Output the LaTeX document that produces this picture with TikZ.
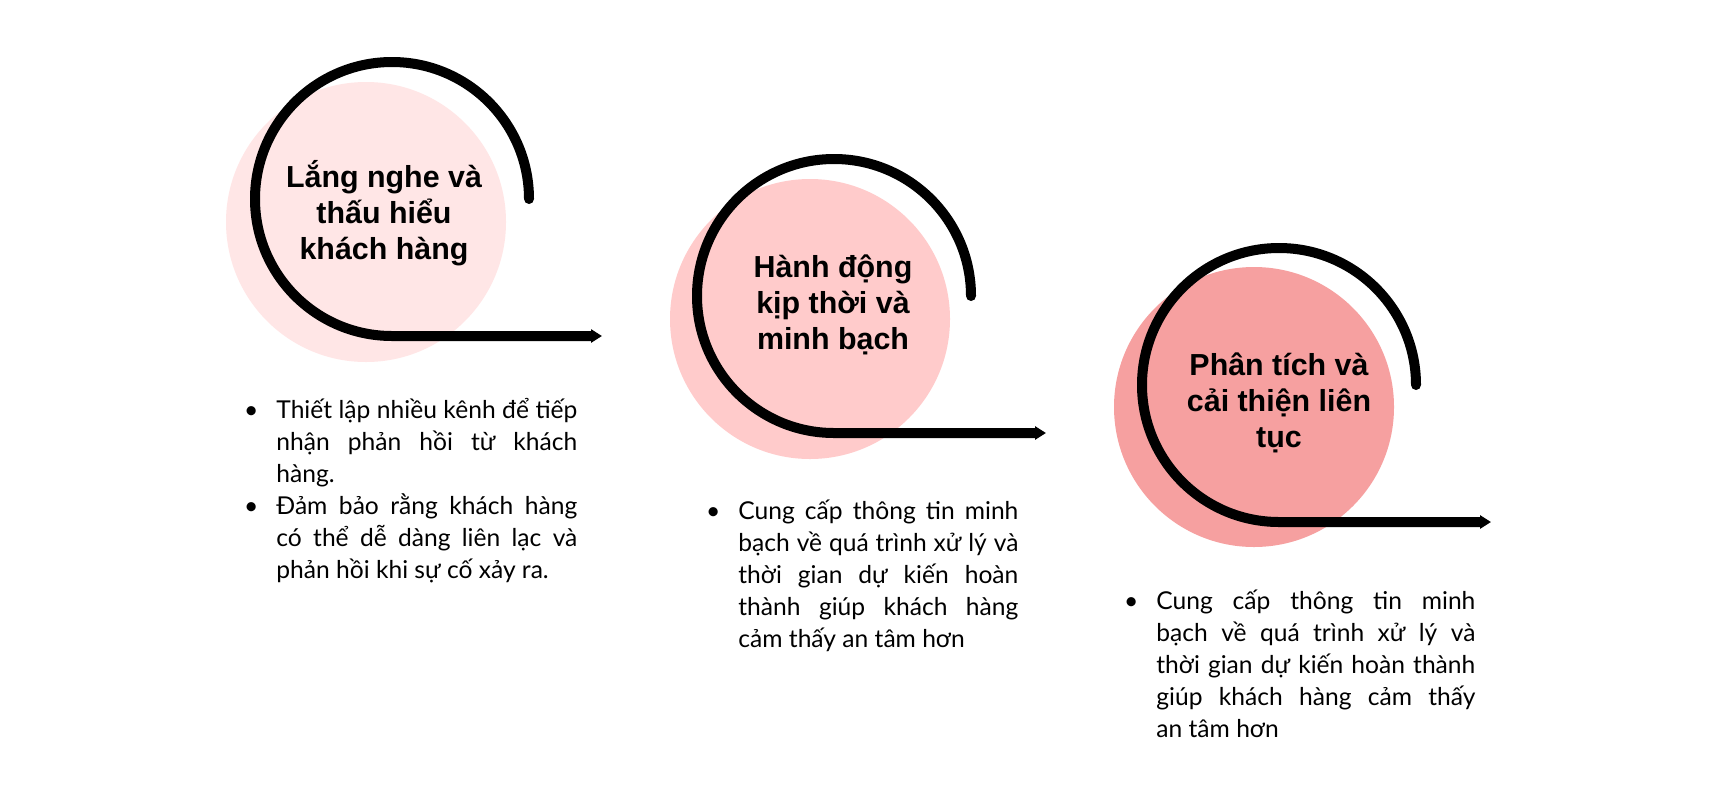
\documentclass[tikz,border=0pt]{standalone}
\usepackage{fontspec}
\setmainfont{Lato}
\newfontfamily\headfont{Liberation Sans}
\usetikzlibrary{arrows.meta}

\definecolor{pinkA}{HTML}{FFE6E6}
\definecolor{pinkB}{HTML}{FFCBCB}
\definecolor{pinkC}{HTML}{F6A0A0}

\begin{document}
\begin{tikzpicture}[x=0.5pt,y=-0.5pt]

        \tikzstyle{disc} = [circle, minimum size=140pt, inner sep=0];
        \tikzstyle{arrow} = [line width=5pt, line cap=round, -{Triangle[width=6.5pt,length=5.5pt]}];
        \tikzstyle{title} = [anchor=base, align=center, inner sep=0, font=\headfont\bfseries\fontsize{15.2pt}{18pt}\selectfont];
        \tikzstyle{body} = [anchor=base west, align=justify, inner sep=0, font=\fontsize{12.3pt}{16pt}\selectfont];

        \useasboundingbox[fill=white] (0,0) rectangle (1718,804);

        \node[disc, fill=pinkA] (C1) at (366,222) {};
        \node[disc, fill=pinkB] (C2) at (810,319) {};
        \node[disc, fill=pinkC] (C3) at (1254,407) {};

        % arcs with their arrows
        \coordinate (S1) at (529,199);
        \coordinate (E1) at (602,336);
        \draw[arrow] (S1) arc[start angle=0, end angle=270, radius=68.5pt] -- (E1);

        \coordinate (S2) at (971,296);
        \coordinate (E2) at (1046,433);
        \draw[arrow] (S2) arc[start angle=0, end angle=270, radius=68.5pt] -- (E2);

        \coordinate (S3) at (1416,385);
        \coordinate (E3) at (1491,522);
        \draw[arrow] (S3) arc[start angle=0, end angle=270, radius=68.5pt] -- (E3);

        % titles, placed by the baseline of their last line
        \node[title] (T1) at (384,259) {Lắng nghe và\\thấu hiểu\\khách hàng};
        \node[title] (T2) at (833,349) {Hành động\\kịp thời và\\minh bạch};
        \node[title] (T3) at (1279,447) {Phân tích và\\cải thiện liên\\tục};

        \node[body, text width=150.5pt] (B1) at (276,418) {%
            \noindent\llap{\textbullet\hspace{9pt}}Thiết lập nhiều kênh để tiếp\linebreak nhận phản hồi từ khách\linebreak hàng.\par
            \noindent\llap{\textbullet\hspace{9pt}}Đảm bảo rằng khách hàng\linebreak có thể dễ dàng liên lạc và\linebreak phản hồi khi sự cố xảy ra.};

        \node[body, text width=140pt] (B2) at (738,519) {%
            \noindent\llap{\textbullet\hspace{9pt}}Cung cấp thông tin minh\linebreak bạch về quá trình xử lý và\linebreak thời gian dự kiến hoàn\linebreak thành giúp khách hàng\linebreak cảm thấy an tâm hơn};

        \node[body, text width=159.5pt] (B3) at (1156,609) {%
            \noindent\llap{\textbullet\hspace{9pt}}Cung cấp thông tin minh\linebreak bạch về quá trình xử lý và\linebreak thời gian dự kiến hoàn thành\linebreak giúp khách hàng cảm thấy\linebreak an tâm hơn};

    \end{tikzpicture}
\end{document}
